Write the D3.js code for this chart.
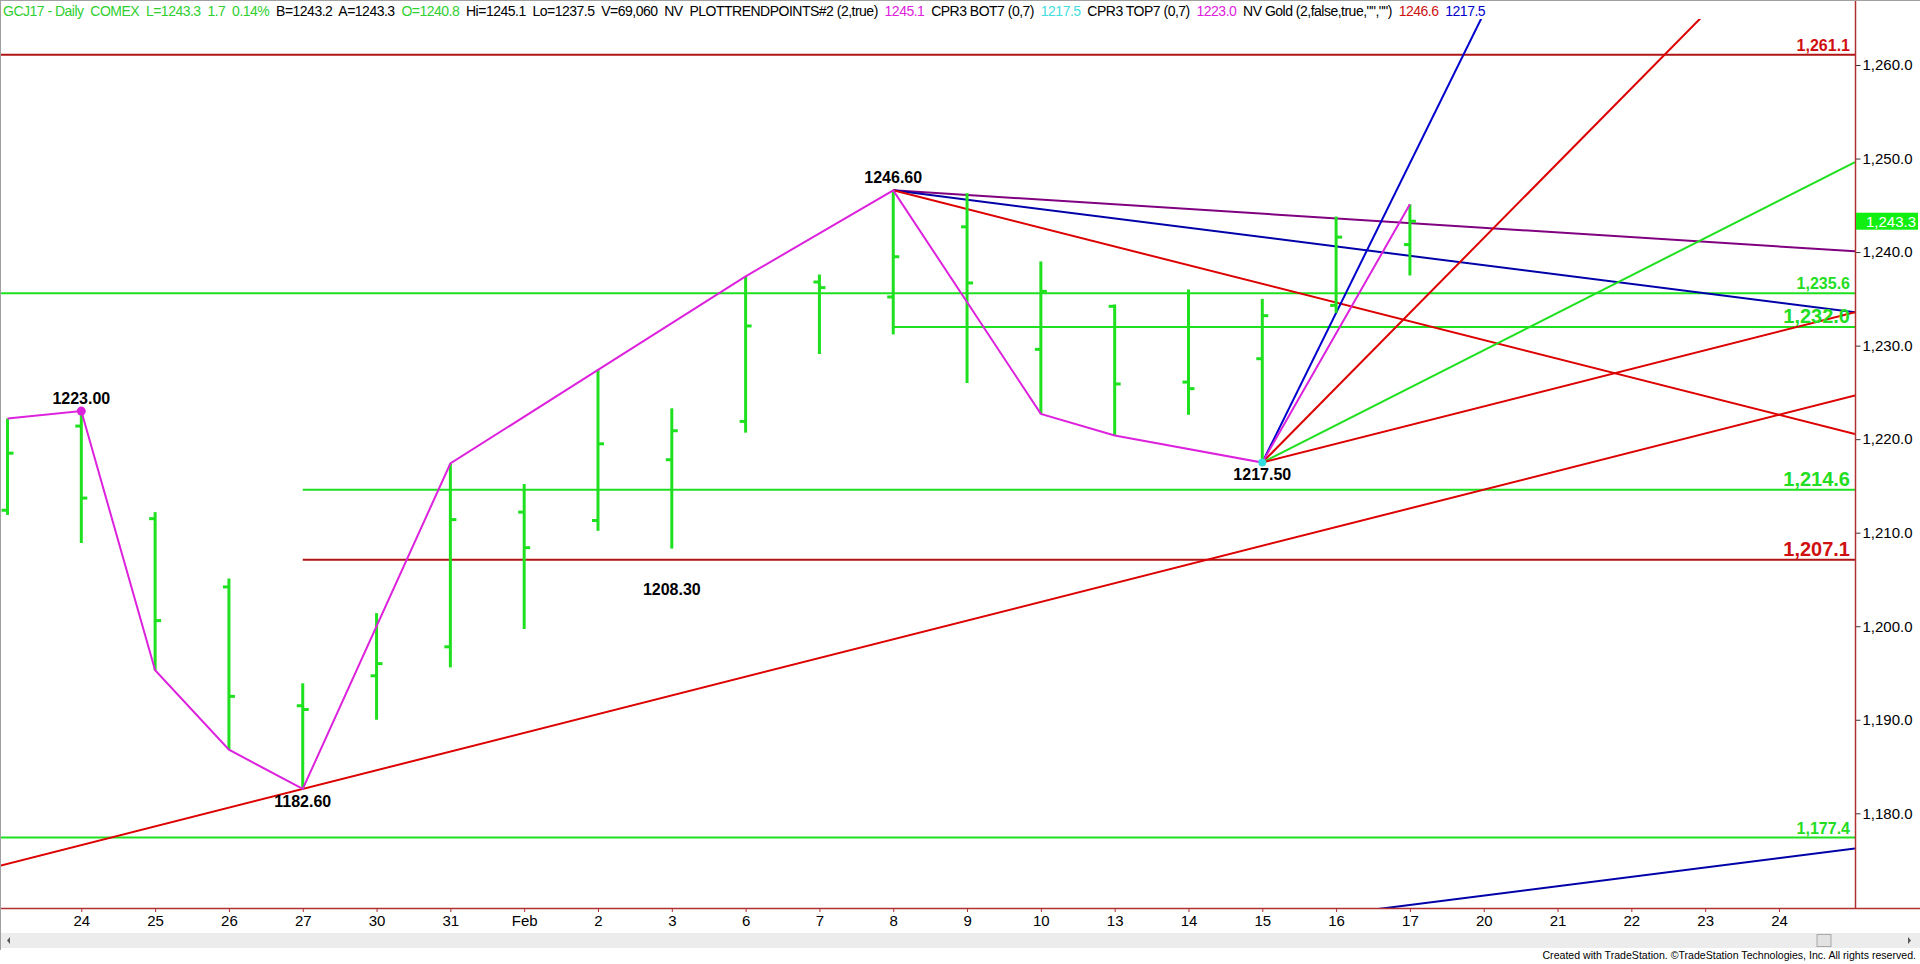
<!DOCTYPE html>
<html><head><meta charset="utf-8">
<script src="https://cdn.jsdelivr.net/npm/d3@7"></script>
<style>
html,body{margin:0;padding:0;background:#fff;overflow:hidden}
svg{display:block}
text{font-family:"Liberation Sans",Arial,sans-serif}
</style></head><body>
<svg id="chart" width="1920" height="964"></svg>
<script>
// ---------------- data ----------------
const barDates  = ["23","24","25","26","27","30","31","Feb","2","3","6","7","8","9","10","13","14","15","16","17"];
const futureDates = ["20","21","22","23","24"];
const openVals  = [1212.4,1221.4,1211.5,1204.2,1191.5,1194.7,1197.8,1212.2,1211.3,1217.8,1221.9,1236.8,1235.2,1242.7,1229.6,1234.2,1226.1,1228.6,1234.3,1240.8];
const highVals  = [1222.2,1223.0,1212.2,1205.1,1193.9,1201.4,1217.4,1215.2,1227.4,1223.3,1237.4,1237.6,1246.6,1246.3,1239.0,1234.4,1236.0,1235.0,1243.8,1245.1];
const lowVals   = [1211.9,1208.9,1195.3,1186.8,1182.6,1190.0,1195.6,1199.7,1210.2,1208.3,1220.7,1229.1,1231.2,1226.0,1222.7,1220.4,1222.6,1217.5,1233.5,1237.5];
const closeVals = [1218.5,1213.7,1200.6,1192.5,1191.1,1196.0,1211.4,1208.4,1219.5,1220.9,1232.1,1236.2,1239.5,1236.7,1235.8,1225.9,1225.4,1233.2,1241.6,1243.3];
const lastPrice = 1243.3;

const yTickVals = [1180,1190,1200,1210,1220,1230,1240,1250,1260];

// swing (zig-zag) points: bar index and price
const swingIdx = [0,1,2,3,4,6,8,10,12,14,15,17,19];
const swingVal = [1222.2,1223.0,1195.3,1186.8,1182.6,1217.4,1227.4,1237.4,1246.6,1222.7,1220.4,1217.5,1245.1];

// swing labels
const swingLabelIdx = [1,4,9,12,17];
const swingLabelVal = [1223.00,1182.60,1208.30,1246.60,1217.50];

// horizontal levels (value, first bar index or null = whole width)
const levelVals  = [1261.1,1235.6,1232.0,1214.6,1207.1,1177.4];
const levelStart = [null,null,12,4,4,null];
const levelKind  = ["red","green","green","green","red","green"];

// angle lines: anchor bar, anchor price, slope (price per bar)
const fan8Anchor  = [12,1246.6]; const fan8Slopes  = [-0.5,-1,-2];
const fan15Anchor = [17,1217.5]; const fan15Slopes = [16,8,4,2];
const jan27Anchor = [4,1182.6];  const jan27Slope  = 2;
const baseAnchor  = [19,1170.2]; const baseSlope   = 1;

// header
const headerParts = [
  ["GCJ17 - Daily  COMEX  L=1243.3  1.7  0.14%  ","green"],
  ["B=1243.2  A=1243.3  ","black"],
  ["O=1240.8  ","green"],
  ["Hi=1245.1  Lo=1237.5  V=69,060  NV  PLOTTRENDPOINTS#2 (2,true)  ","black"],
  ["1245.1  ","magenta"],
  ["CPR3 BOT7 (0,7)  ","black"],
  ["1217.5  ","cyan"],
  ["CPR3 TOP7 (0,7)  ","black"],
  ["1223.0  ","magenta"],
  ["NV Gold (2,false,true,\"\",\"\")  ","black"],
  ["1246.6  ","darkred"],
  ["1217.5","blue"]
];

// ---------------- drawing ----------------
const C = {green:"#1fe01f", hdrGreen:"#2fcf2f", red:"#dd0000", darkred:"#b01414", purple:"#800080",
           navy:"#0000a8", blue:"#0000cc", magenta:"#dd22dd", cyan:"#33dddd", axis:"#b03030"};
const W=1920,H=964, plotL=1, plotR=1855, plotT=19, plotB=908;
const svg = d3.select("#chart");

const x = d3.scaleLinear().domain([-0.1016, 25.03]).range([0, plotR]);
const y = d3.scaleLinear().domain([1180,1260]).range([813.3, 65]);
const xMin = x.domain()[0], xMax = x.domain()[1];

svg.append("rect").attr("width",W).attr("height",H).attr("fill","#fff");

// clip
svg.append("clipPath").attr("id","plot").append("rect")
  .attr("x",plotL).attr("y",plotT).attr("width",plotR-plotL).attr("height",plotB-plotT);
const g = svg.append("g").attr("clip-path","url(#plot)");

// horizontal levels
levelVals.forEach((v,i)=>{
  const x0 = levelStart[i]===null ? 0 : x(levelStart[i]);
  g.append("line").attr("x1",x0).attr("x2",plotR).attr("y1",y(v)).attr("y2",y(v))
   .attr("stroke", levelKind[i]==="red" ? C.darkred : C.green).attr("stroke-width",2);
});

// angle lines
function ray(anchor, slope, color, both){
  const i0 = both ? xMin : anchor[0];
  const v0 = anchor[1] + slope*(i0-anchor[0]);
  const v1 = anchor[1] + slope*(xMax-anchor[0]);
  g.append("line").attr("x1",x(i0)).attr("y1",y(v0)).attr("x2",x(xMax)).attr("y2",y(v1))
   .attr("stroke",color).attr("stroke-width",2);
}
ray(jan27Anchor, jan27Slope, C.red, true);
ray(baseAnchor, baseSlope, C.navy, true);
const fan8Colors = [C.purple, C.navy, C.red];
fan8Slopes.forEach((s,i)=>ray(fan8Anchor, s, fan8Colors[i], false));
const fan15Colors = [C.blue, C.red, C.green, C.red];
fan15Slopes.forEach((s,i)=>ray(fan15Anchor, s, fan15Colors[i], false));

// OHLC bars
const bars = g.append("g");
barDates.forEach((d,i)=>{
  const cx = x(i);
  bars.append("line").attr("x1",cx).attr("x2",cx).attr("y1",y(highVals[i])).attr("y2",y(lowVals[i]))
    .attr("stroke",C.green).attr("stroke-width",3);
  bars.append("line").attr("x1",cx-6).attr("x2",cx).attr("y1",y(openVals[i])).attr("y2",y(openVals[i]))
    .attr("stroke",C.green).attr("stroke-width",3);
  bars.append("line").attr("x1",cx).attr("x2",cx+6).attr("y1",y(closeVals[i])).attr("y2",y(closeVals[i]))
    .attr("stroke",C.green).attr("stroke-width",3);
});

// zigzag
const zig = d3.line().x(d=>x(d[0])).y(d=>y(d[1]));
g.append("path").datum(swingIdx.map((d,i)=>[d,swingVal[i]]))
  .attr("d",zig).attr("fill","none").attr("stroke",C.magenta).attr("stroke-width",2);

// swing dots
g.append("circle").attr("cx",x(1)).attr("cy",y(1223.0)).attr("r",4.5).attr("fill",C.magenta);
g.append("circle").attr("cx",x(17)).attr("cy",y(1217.5)).attr("r",4).attr("fill",C.cyan);

// swing labels
const labelDy = [-7, 18, 46, -7, 17];
swingLabelIdx.forEach((idx,i)=>{
  svg.append("text").attr("x",x(idx)).attr("y",y(swingLabelVal[i])+labelDy[i])
    .attr("text-anchor","middle").attr("font-size",16).attr("font-weight","bold").attr("fill","#000")
    .text(d3.format(".2f")(swingLabelVal[i]));
});

// level labels
const levelFont = [16,16,20,20,20,16];
levelVals.forEach((v,i)=>{
  svg.append("text").attr("x",1850).attr("y",y(v)-4).attr("text-anchor","end")
    .attr("font-size",levelFont[i]).attr("font-weight","bold")
    .attr("fill", levelKind[i]==="red" ? "#d01010" : "#22dd22")
    .text(d3.format(",.1f")(v));
});

// axes
const yAxis = d3.axisRight(y).tickValues(yTickVals).tickFormat(d3.format(",.1f")).tickSize(5).tickPadding(2);
const ya = svg.append("g").attr("transform",`translate(${plotR+0.5},0)`).call(yAxis);
ya.select(".domain").remove();
ya.selectAll(".tick line").attr("stroke","#333");
ya.selectAll("text").attr("font-size",15).attr("fill","#000").attr("font-family","Liberation Sans, Arial, sans-serif");

const allDates = barDates.concat(futureDates);
const xTickIdx = d3.range(1, allDates.length);
const xAxis = d3.axisBottom(x).tickValues(xTickIdx).tickFormat(i=>allDates[i]).tickSize(4).tickPadding(3);
const xa = svg.append("g").attr("transform",`translate(0,${plotB})`).call(xAxis);
xa.select(".domain").remove();
xa.selectAll(".tick line").attr("stroke",C.axis);
xa.selectAll("text").attr("font-size",15).attr("fill","#000").attr("font-family","Liberation Sans, Arial, sans-serif");

svg.append("line").attr("x1",0).attr("x2",W).attr("y1",plotB+0.5).attr("y2",plotB+0.5).attr("stroke",C.axis).attr("stroke-width",1.5);
svg.append("line").attr("x1",plotR+0.5).attr("x2",plotR+0.5).attr("y1",0).attr("y2",plotB).attr("stroke",C.axis).attr("stroke-width",1.5);

// last price box
svg.append("rect").attr("x",plotR+1).attr("y",y(lastPrice)-8.5).attr("width",62).attr("height",17).attr("fill","#11ee11");
svg.append("text").attr("x",1916).attr("y",y(lastPrice)+5.5).attr("text-anchor","end").attr("font-size",15).attr("fill","#fff")
  .text(d3.format(",.1f")(lastPrice));

// header: fit to the reference width via letter spacing
const hdrColor = {green:C.hdrGreen, black:"#000", magenta:"#dd22dd", cyan:"#44dddd", darkred:"#cc1111", blue:"#0000cc"};
const ht = svg.append("text").attr("x",3).attr("y",16).attr("font-size",14)
  .style("white-space","pre").attr("font-family","Liberation Sans Narrow, Arial Narrow, Liberation Sans, sans-serif");
headerParts.forEach(p=>ht.append("tspan").attr("fill",hdrColor[p[1]]).text(p[0]));
{
  const nChars = headerParts.reduce((a,p)=>a+p[0].length,0);
  const w = ht.node().getComputedTextLength();
  const ls = (1482 - w)/nChars;
  ht.style("letter-spacing", ls.toFixed(3)+"px");
}

// borders
svg.append("line").attr("x1",0).attr("x2",W).attr("y1",0.5).attr("y2",0.5).attr("stroke","#a0a0a0");
svg.append("line").attr("x1",0.5).attr("x2",0.5).attr("y1",0).attr("y2",950).attr("stroke","#a0a0a0");

// scrollbar
svg.append("rect").attr("x",1).attr("y",933).attr("width",W-1).attr("height",15).attr("fill","#ececec");
svg.append("rect").attr("x",1817).attr("y",934.5).attr("width",14).attr("height",12).attr("fill","#e2e2e2").attr("stroke","#a8a8a8");
svg.append("path").attr("d","M1908,937 L1911,940.5 L1908,944 Z").attr("fill","#555");
svg.append("path").attr("d","M10,937 L7,940.5 L10,944 Z").attr("fill","#555");

// footer
const ft = svg.append("text").attr("x",1916).attr("y",959).attr("text-anchor","end").attr("font-size",12)
  .attr("font-family","Liberation Sans Narrow, Arial Narrow, Liberation Sans, sans-serif")
  .attr("fill","#000")
  .text("Created with TradeStation. \u00A9TradeStation Technologies, Inc. All rights reserved.");
{
  const w = ft.node().getComputedTextLength();
  if (w > 374) ft.attr("font-size", (12*374/w).toFixed(2));
}
</script>
</body></html>
